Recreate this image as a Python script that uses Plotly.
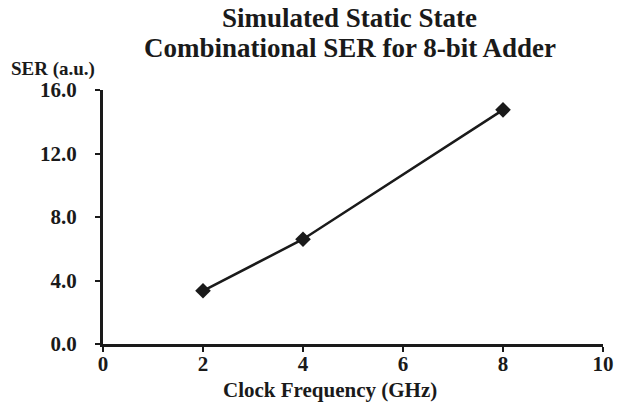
import plotly.graph_objects as go

clock_ghz = [2, 4, 8]
ser_au = [3.35, 6.6, 14.75]
x_ticks = [0, 2, 4, 6, 8, 10]
y_ticks = [0, 4, 8, 12, 16]
y_tick_labels = ["0.0", "4.0", "8.0", "12.0", "16.0"]
title_lines = ["Simulated Static State", "Combinational SER for 8-bit Adder"]
x_title = "Clock Frequency (GHz)"
y_title = "SER (a.u.)"

FONT = "Liberation Serif, Times New Roman, serif"
INK = "#1a1a1a"

L, R, T, B = 103, 25, 90, 62
W, H = 628, 406
PW, PH = W - L - R, H - T - B


def px_to_paper_x(px):
    return (px - L) / PW


def px_to_paper_y(py):
    return (H - B - py) / PH


fig = go.Figure()
fig.add_trace(go.Scatter(
    x=clock_ghz, y=ser_au, mode="lines+markers",
    line=dict(color=INK, width=2.5),
    marker=dict(symbol="diamond", size=12, color=INK),
    showlegend=False, hoverinfo="skip",
))

fig.update_layout(
    width=W, height=H,
    margin=dict(l=L, r=R, t=T, b=B, pad=0),
    paper_bgcolor="white", plot_bgcolor="white",
    font=dict(family=FONT, color=INK),
    xaxis=dict(
        range=[0, 10], tickmode="array", tickvals=x_ticks,
        ticktext=[str(v) for v in x_ticks],
        showline=True, linecolor=INK, linewidth=3,
        ticks="outside", ticklen=5, tickwidth=2, tickcolor=INK,
        showgrid=False, zeroline=False,
        tickfont=dict(family=FONT, size=21, color=INK, weight="bold"),
        ticklabelstandoff=-6,
    ),
    yaxis=dict(
        range=[0, 16], tickmode="array", tickvals=y_ticks,
        ticktext=y_tick_labels,
        showline=True, linecolor=INK, linewidth=3,
        ticks="outside", ticklen=5, tickwidth=2, tickcolor=INK,
        showgrid=False, zeroline=False,
        tickfont=dict(family=FONT, size=21, color=INK, weight="bold"),
        ticklabelstandoff=14,
    ),
)

annotations = [
    dict(text=title_lines[0], x=px_to_paper_x(349), y=px_to_paper_y(18),
         font=dict(size=27)),
    dict(text=title_lines[1], x=px_to_paper_x(350), y=px_to_paper_y(48),
         font=dict(size=27)),
    dict(text=y_title, x=px_to_paper_x(52.5), y=px_to_paper_y(69),
         font=dict(size=19)),
    dict(text=x_title, x=px_to_paper_x(330), y=px_to_paper_y(390),
         font=dict(size=21)),
]
for a in annotations:
    a["font"].update(family=FONT, color=INK, weight="bold")
    fig.add_annotation(xref="paper", yref="paper", xanchor="center",
                       yanchor="middle", showarrow=False, **a)

fig.write_html("out.html")
